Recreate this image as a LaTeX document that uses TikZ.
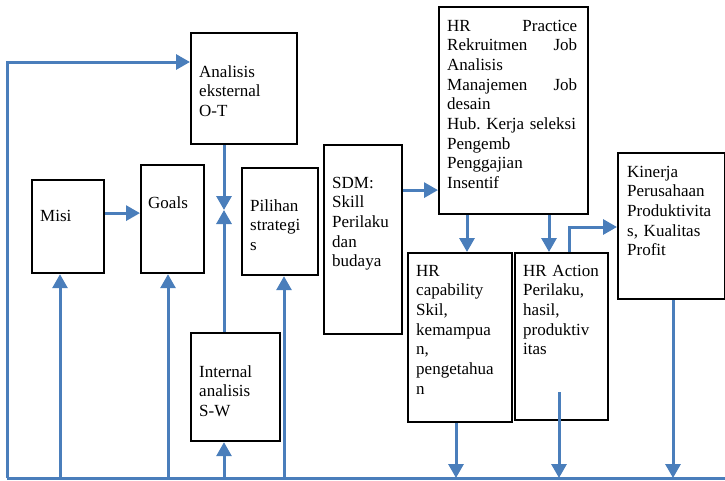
\documentclass[tikz,border=0pt]{standalone}
\usepackage{fontspec}
\setmainfont{Liberation Serif}
\usetikzlibrary{arrows.meta}
\definecolor{lineblue}{RGB}{74,126,187}
\frenchspacing
\begin{document}
\begin{tikzpicture}[x=1pt,y=-1pt,
  box/.style={draw=black,line width=2.2pt,anchor=north west,inner sep=0pt,minimum width=#1},
  txt/.style={anchor=base west,inner sep=0pt,text width=140pt,align=left,font=\fontsize{17}{19.7}\selectfont},
  bl/.style={draw=lineblue,line width=3pt},
  arr/.style={bl,-{Triangle[width=15pt,length=14pt]}}]
\useasboundingbox (0,0) rectangle (725,480);
% boxes
\node[box=106pt,minimum height=111pt] (ae) at (190,32) {};
\node[box=72pt,minimum height=93pt] (misi) at (31,179) {};
\node[box=63pt,minimum height=108pt] (goals) at (140,164) {};
\node[box=76pt,minimum height=107pt] (pil) at (241,167) {};
\node[box=89pt,minimum height=108pt] (ia) at (190,332) {};
\node[box=78pt,minimum height=189pt] (sdm) at (323,144) {};
\node[box=149pt,minimum height=207pt] (hrp) at (438,6) {};
\node[box=107pt,minimum height=146pt] (kin) at (617,152) {};
\node[box=104pt,minimum height=169pt] (hrc) at (407,252) {};
\node[box=93pt,minimum height=167pt] (hra) at (514,252) {};
% texts
\node[txt] (aeT) at (199,77) {Analisis\\eksternal\\O-T};
\node[txt] (misiT) at (40,221) {Misi};
\node[txt] (goalsT) at (148,208) {Goals};
\node[txt] (pilT) at (250,211) {Pilihan\\strategi\\s};
\node[txt] (iaT) at (199,377) {Internal\\analisis\\S-W};
\node[txt] (sdmT) at (332,188) {SDM:\\Skill\\Perilaku\\dan\\budaya};
\node[txt] (hrpT) at (447,31) {\makebox[130pt][s]{HR\hfill Practice}\\\makebox[130pt][s]{Rekruitmen\hfill Job}\\Analisis\\\makebox[130pt][s]{Manajemen\hfill Job}\\desain\\Hub.\ Kerja seleksi\\Pengemb\\Penggajian\\Insentif};
\node[txt] (kinT) at (627,177) {Kinerja\\Perusahaan\\Produktivita\\s, Kualitas\\Profit};
\node[txt] (hrcT) at (416,276) {HR\\capability\\Skil,\\kemampua\\n,\\pengetahua\\n};
\node[txt] (hraT) at (523,276) {HR Action\\Perilaku,\\hasil,\\produktiv\\itas};
% coordinates
\coordinate (bL) at (7,478);
\coordinate (bR) at (725,478);
\coordinate (tL) at (7,62);
\coordinate (f1) at (60,478);
\coordinate (f2) at (168,478);
\coordinate (f3) at (224,478);
\coordinate (f4) at (284,478);
\coordinate (m) at (224,210);
\coordinate (k1) at (569,227);
\coordinate (d1) at (456,478);
\coordinate (d2) at (559,478);
\coordinate (d2s) at (559,392);
\coordinate (d3) at (673,478);
\coordinate (c1) at (467,0);
\coordinate (c2) at (549,0);
% connectors
\draw[bl] (bL) -- (bR);
\draw[arr] (bL) -- (tL) -- (tL -| ae.west);
\draw[arr] (f1) -- (f1 |- misi.south);
\draw[arr] (f2) -- (f2 |- goals.south);
\draw[arr] (f3) -- (f3 |- ia.south);
\draw[arr] (f4) -- (f4 |- pil.south);
\draw[arr] (m |- ae.south) -- (m);
\draw[arr] (m |- ia.north) -- (m);
\draw[arr] ([yshift=13.5pt]misi.east) -- ([yshift=13.5pt]misi.east -| goals.west);
\draw[arr] ([yshift=49.5pt]sdm.east) -- ([yshift=49.5pt]sdm.east -| hrp.west);
\draw[arr] (c1 |- hrp.south) -- (c1 |- hrc.north);
\draw[arr] (c2 |- hrp.south) -- (c2 |- hra.north);
\draw[arr] (k1 |- hra.north) -- (k1) -- (k1 -| kin.west);
\draw[arr] (d1 |- hrc.south) -- (d1);
\draw[arr] (d2s) -- (d2);
\draw[arr] (d3 |- kin.south) -- (d3);
\end{tikzpicture}
\end{document}
